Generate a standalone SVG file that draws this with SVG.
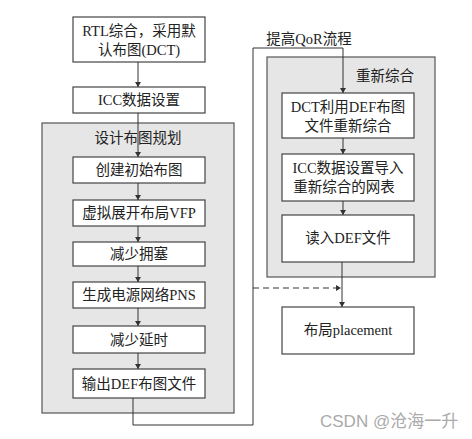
<svg xmlns="http://www.w3.org/2000/svg" width="472" height="439" viewBox="0 0 472 439">
<style>
.box{fill:#fff;stroke:#444;stroke-width:1.2}
.grp{fill:#e6e6e6;stroke:#555;stroke-width:1.2}
.t{font-family:"Liberation Serif","Noto Sans CJK SC",serif;font-size:14.5px;fill:#222;text-anchor:middle}
.ln{fill:none;stroke:#333;stroke-width:1}
.wm{font-family:"Liberation Sans","Noto Sans CJK SC",sans-serif;font-size:17px;fill:#aaa}
</style>
<defs>
<marker id="ah" markerWidth="6" markerHeight="8" refX="5" refY="4" orient="auto" markerUnits="userSpaceOnUse">
<path d="M0,1 L5,4 L0,7 Z" fill="#333"/>
</marker>
</defs>
<rect x="0" y="0" width="472" height="439" fill="#fff"/>
<g id="grp-left"><rect class="grp" x="42" y="123" width="192" height="290"/><text class="t" x="138" y="143">设计布图规划</text></g>
<g id="grp-right"><rect class="grp" x="267" y="57" width="168" height="220"/><text class="t" x="385" y="81">重新综合</text></g>
<g id="n-rtl"><rect class="box" x="73" y="17" width="132" height="45"/><text class="t" x="139" y="36">RTL综合，采用默</text><text class="t" x="139" y="55">认布图(DCT)</text></g>
<g id="n-icc"><rect class="box" x="73" y="87" width="132" height="26"/><text class="t" x="139" y="105">ICC数据设置</text></g>
<g id="n-create"><rect class="box" x="73" y="157" width="132" height="26"/><text class="t" x="139" y="175">创建初始布图</text></g>
<g id="n-vfp"><rect class="box" x="73" y="200" width="132" height="26"/><text class="t" x="139" y="218">虚拟展开布局VFP</text></g>
<g id="n-cong"><rect class="box" x="73" y="242" width="132" height="24"/><text class="t" x="139" y="259">减少拥塞</text></g>
<g id="n-pns"><rect class="box" x="73" y="282" width="132" height="26"/><text class="t" x="139" y="300">生成电源网络PNS</text></g>
<g id="n-delay"><rect class="box" x="73" y="326" width="132" height="27"/><text class="t" x="139" y="345">减少延时</text></g>
<g id="n-def"><rect class="box" x="73" y="369" width="132" height="29"/><text class="t" x="139" y="389">输出DEF布图文件</text></g>
<g id="n-dct"><rect class="box" x="282" y="93" width="132" height="45"/><text class="t" x="348" y="112">DCT利用DEF布图</text><text class="t" x="348" y="131">文件重新综合</text></g>
<g id="n-icc2"><rect class="box" x="282" y="154" width="132" height="47"/><text class="t" x="348" y="173">ICC数据设置导入</text><text class="t" x="344" y="192">重新综合的网表</text></g>
<g id="n-read"><rect class="box" x="282" y="215" width="132" height="47"/><text class="t" x="348" y="243">读入DEF文件</text></g>
<g id="n-place"><rect class="box" x="282" y="307" width="132" height="47"/><text class="t" x="348" y="335">布局placement</text></g>
<g id="connectors">
<line class="ln" x1="138" y1="62" x2="138" y2="87" marker-end="url(#ah)"/>
<line class="ln" x1="138" y1="113" x2="138" y2="157" marker-end="url(#ah)"/>
<line class="ln" x1="138" y1="183" x2="138" y2="200" marker-end="url(#ah)"/>
<line class="ln" x1="138" y1="226" x2="138" y2="242" marker-end="url(#ah)"/>
<line class="ln" x1="138" y1="266" x2="138" y2="282" marker-end="url(#ah)"/>
<line class="ln" x1="138" y1="308" x2="138" y2="326" marker-end="url(#ah)"/>
<line class="ln" x1="138" y1="353" x2="138" y2="369" marker-end="url(#ah)"/>
<polyline class="ln" points="133,398 133,425 253,425 253,48 343,48 343,93" marker-end="url(#ah)"/>
<line class="ln" x1="343" y1="138" x2="343" y2="154" marker-end="url(#ah)"/>
<line class="ln" x1="343" y1="201" x2="343" y2="215" marker-end="url(#ah)"/>
<line class="ln" x1="342" y1="262" x2="342" y2="307" marker-end="url(#ah)"/>
<line class="ln" x1="253" y1="288" x2="341" y2="288" stroke-dasharray="6,4" marker-end="url(#ah)"/>
<text class="t" x="309" y="44">提高QoR流程</text>
</g>
<text class="wm" x="320" y="427">CSDN @沧海一升</text>
</svg>
